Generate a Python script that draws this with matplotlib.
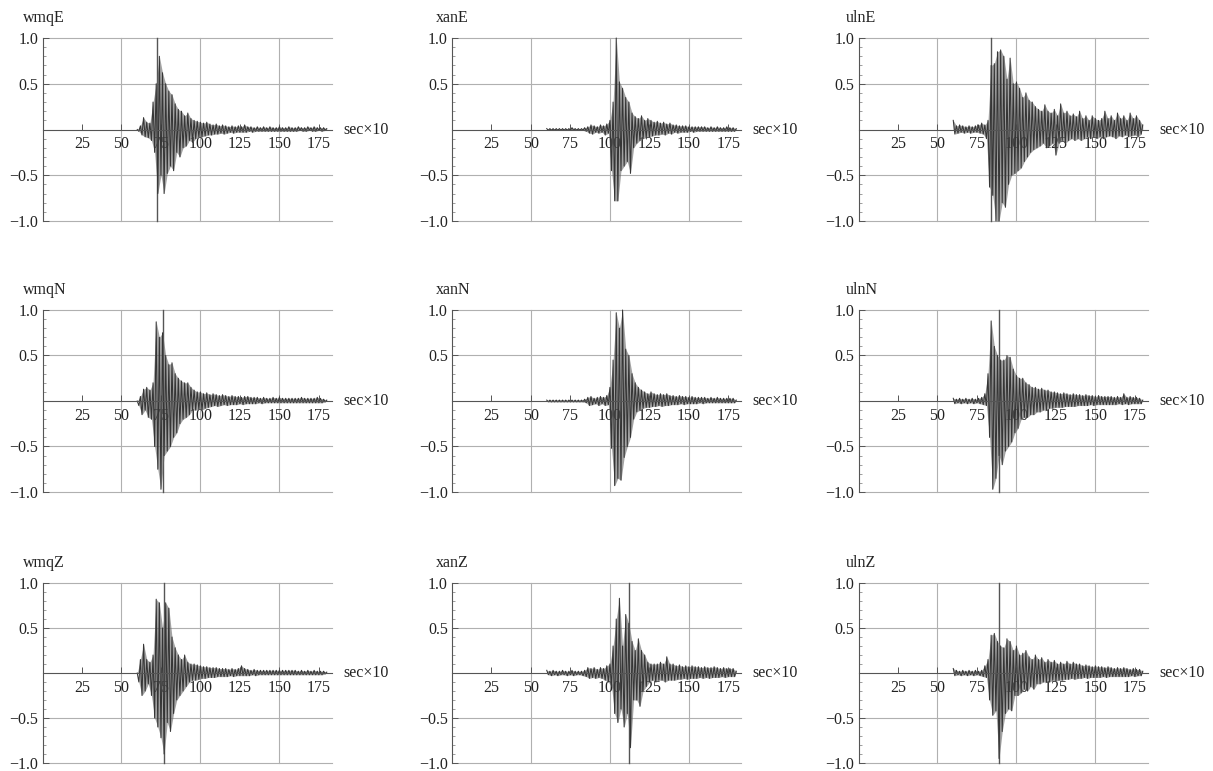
import numpy as np
import matplotlib
matplotlib.use('Agg')
import matplotlib.pyplot as plt
from matplotlib.ticker import MultipleLocator, FixedLocator, FuncFormatter

# normalised seismograms
# *_hi: positive peaks at t = 60, 62, ..., 180 ; *_lo: negative peaks at t = 61, 63, ..., 179
wmqE_hi = [0.00, 0.04, 0.13, 0.08, 0.07, 0.30, 0.50, 0.80, 0.62, 0.50,
           0.42, 0.38, 0.28, 0.22, 0.20, 0.15, 0.18, 0.12, 0.10, 0.09,
           0.08, 0.07, 0.08, 0.06, 0.05, 0.06, 0.04, 0.05, 0.04, 0.03,
           0.04, 0.03, 0.04, 0.03, 0.05, 0.03, 0.03, 0.02, 0.03, 0.02,
           0.03, 0.02, 0.03, 0.02, 0.02, 0.03, 0.02, 0.02, 0.03, 0.02,
           0.02, 0.03, 0.02, 0.02, 0.03, 0.02, 0.03, 0.02, 0.02, 0.02,
           0.01]
wmqE_lo = [-0.02, -0.06, -0.08, -0.09, -0.12, -0.25, -0.70, -0.50, -0.70, -0.48,
           -0.40, -0.45, -0.25, -0.30, -0.20, -0.18, -0.12, -0.14, -0.10, -0.08,
           -0.08, -0.07, -0.06, -0.06, -0.05, -0.05, -0.04, -0.05, -0.04, -0.03,
           -0.04, -0.03, -0.03, -0.03, -0.03, -0.02, -0.03, -0.02, -0.02, -0.02,
           -0.02, -0.02, -0.02, -0.02, -0.02, -0.02, -0.02, -0.02, -0.02, -0.02,
           -0.02, -0.01, -0.02, -0.02, -0.01, -0.02, -0.02, -0.01, -0.02, -0.01]

xanE_hi = [0.01, 0.01, 0.01, 0.01, 0.01, 0.01, 0.01, 0.01, 0.02, 0.01,
           0.01, 0.01, 0.02, 0.03, 0.05, 0.04, 0.03, 0.05, 0.04, 0.06,
           0.10, 0.30, 1.00, 0.52, 0.45, 0.35, 0.30, 0.18, 0.14, 0.12,
           0.15, 0.10, 0.12, 0.10, 0.08, 0.09, 0.07, 0.08, 0.06, 0.07,
           0.05, 0.05, 0.04, 0.04, 0.04, 0.03, 0.03, 0.03, 0.03, 0.03,
           0.03, 0.02, 0.03, 0.02, 0.03, 0.02, 0.02, 0.03, 0.02, 0.02,
           0.01]
xanE_lo = [-0.01, -0.01, -0.01, -0.01, -0.01, -0.01, -0.01, -0.01, -0.01, -0.01,
           -0.01, -0.01, -0.02, -0.04, -0.05, -0.03, -0.04, -0.03, -0.06, -0.04,
           -0.45, -0.78, -0.78, -0.45, -0.40, -0.35, -0.48, -0.20, -0.15, -0.12,
           -0.10, -0.09, -0.08, -0.07, -0.06, -0.06, -0.05, -0.06, -0.04, -0.05,
           -0.03, -0.04, -0.03, -0.03, -0.03, -0.02, -0.03, -0.02, -0.02, -0.02,
           -0.02, -0.02, -0.02, -0.02, -0.02, -0.02, -0.02, -0.02, -0.02, -0.02]

ulnE_hi = [0.10, 0.04, 0.05, 0.04, 0.03, 0.04, 0.03, 0.04, 0.05, 0.07,
           0.05, 0.10, 0.70, 0.72, 0.85, 0.87, 0.80, 0.55, 0.78, 0.50,
           0.52, 0.45, 0.35, 0.40, 0.32, 0.30, 0.25, 0.22, 0.20, 0.27,
           0.20, 0.18, 0.22, 0.15, 0.28, 0.18, 0.20, 0.15, 0.17, 0.14,
           0.20, 0.12, 0.15, 0.10, 0.15, 0.12, 0.10, 0.12, 0.20, 0.12,
           0.15, 0.10, 0.18, 0.12, 0.15, 0.10, 0.18, 0.12, 0.15, 0.10,
           0.05]
ulnE_lo = [-0.05, -0.04, -0.03, -0.04, -0.03, -0.04, -0.03, -0.03, -0.04, -0.05,
           -0.10, -0.63, -0.72, -1.00, -1.00, -0.80, -0.85, -0.60, -0.50, -0.48,
           -0.45, -0.42, -0.35, -0.30, -0.25, -0.22, -0.20, -0.18, -0.15, -0.20,
           -0.18, -0.15, -0.28, -0.15, -0.12, -0.15, -0.12, -0.10, -0.12, -0.10,
           -0.12, -0.10, -0.08, -0.10, -0.08, -0.10, -0.08, -0.10, -0.08, -0.07,
           -0.08, -0.10, -0.07, -0.08, -0.06, -0.08, -0.07, -0.06, -0.08, -0.05]

wmqN_hi = [0.00, 0.05, 0.13, 0.15, 0.12, 0.20, 0.87, 0.70, 0.75, 0.50,
           0.40, 0.42, 0.30, 0.25, 0.22, 0.20, 0.20, 0.15, 0.12, 0.10,
           0.10, 0.08, 0.09, 0.07, 0.08, 0.07, 0.06, 0.07, 0.06, 0.05,
           0.06, 0.05, 0.05, 0.04, 0.05, 0.05, 0.04, 0.04, 0.04, 0.03,
           0.04, 0.03, 0.03, 0.04, 0.03, 0.04, 0.03, 0.03, 0.03, 0.03,
           0.03, 0.03, 0.04, 0.03, 0.03, 0.03, 0.03, 0.04, 0.03, 0.02,
           0.01]
wmqN_lo = [-0.05, -0.15, -0.10, -0.18, -0.20, -0.50, -0.75, -0.97, -0.60, -0.55,
           -0.50, -0.40, -0.35, -0.25, -0.20, -0.18, -0.15, -0.10, -0.10, -0.09,
           -0.10, -0.08, -0.07, -0.06, -0.05, -0.06, -0.05, -0.04, -0.05, -0.04,
           -0.04, -0.04, -0.03, -0.04, -0.03, -0.03, -0.03, -0.03, -0.02, -0.03,
           -0.02, -0.02, -0.02, -0.02, -0.02, -0.02, -0.02, -0.02, -0.02, -0.02,
           -0.02, -0.02, -0.02, -0.02, -0.02, -0.02, -0.02, -0.02, -0.02, -0.01]

xanN_hi = [0.01, 0.01, 0.01, 0.01, 0.01, 0.01, 0.01, 0.01, 0.01, 0.01,
           0.01, 0.01, 0.02, 0.04, 0.05, 0.03, 0.04, 0.05, 0.04, 0.06,
           0.15, 0.45, 0.97, 0.80, 1.00, 0.57, 0.50, 0.30, 0.20, 0.15,
           0.12, 0.10, 0.08, 0.10, 0.08, 0.07, 0.08, 0.07, 0.08, 0.06,
           0.06, 0.05, 0.06, 0.05, 0.05, 0.04, 0.05, 0.04, 0.04, 0.04,
           0.04, 0.03, 0.04, 0.03, 0.04, 0.03, 0.03, 0.03, 0.03, 0.03,
           0.01]
xanN_lo = [-0.01, -0.01, -0.01, -0.01, -0.01, -0.01, -0.01, -0.01, -0.01, -0.01,
           -0.01, -0.01, -0.02, -0.05, -0.04, -0.03, -0.05, -0.03, -0.05, -0.04,
           -0.52, -0.93, -0.85, -0.87, -0.62, -0.50, -0.40, -0.20, -0.12, -0.10,
           -0.08, -0.07, -0.07, -0.06, -0.06, -0.05, -0.06, -0.05, -0.05, -0.04,
           -0.04, -0.04, -0.03, -0.04, -0.03, -0.03, -0.03, -0.03, -0.02, -0.03,
           -0.02, -0.02, -0.02, -0.02, -0.02, -0.02, -0.02, -0.02, -0.02, -0.02]

ulnN_hi = [0.03, 0.02, 0.03, 0.02, 0.03, 0.02, 0.03, 0.02, 0.03, 0.04,
           0.08, 0.30, 0.88, 0.60, 0.50, 0.45, 0.45, 0.50, 0.48, 0.35,
           0.28, 0.25, 0.25, 0.20, 0.18, 0.15, 0.15, 0.13, 0.14, 0.12,
           0.12, 0.10, 0.10, 0.09, 0.08, 0.09, 0.08, 0.07, 0.08, 0.07,
           0.07, 0.06, 0.07, 0.06, 0.06, 0.05, 0.06, 0.05, 0.05, 0.05,
           0.05, 0.04, 0.05, 0.04, 0.08, 0.04, 0.05, 0.04, 0.04, 0.03,
           0.01]
ulnN_lo = [-0.03, -0.02, -0.03, -0.02, -0.03, -0.02, -0.03, -0.02, -0.03, -0.04,
           -0.05, -0.40, -0.97, -0.85, -0.60, -0.70, -0.55, -0.50, -0.45, -0.35,
           -0.30, -0.20, -0.18, -0.18, -0.15, -0.15, -0.12, -0.12, -0.10, -0.10,
           -0.08, -0.08, -0.07, -0.07, -0.07, -0.06, -0.06, -0.06, -0.06, -0.05,
           -0.05, -0.05, -0.05, -0.04, -0.05, -0.04, -0.04, -0.04, -0.04, -0.04,
           -0.04, -0.04, -0.03, -0.04, -0.03, -0.04, -0.03, -0.03, -0.03, -0.03]

wmqZ_hi = [0.00, 0.15, 0.32, 0.15, 0.12, 0.20, 0.82, 0.78, 0.50, 0.78,
           0.72, 0.40, 0.28, 0.20, 0.15, 0.20, 0.12, 0.10, 0.10, 0.09,
           0.08, 0.07, 0.07, 0.06, 0.06, 0.06, 0.05, 0.05, 0.05, 0.04,
           0.05, 0.04, 0.05, 0.08, 0.05, 0.04, 0.03, 0.04, 0.03, 0.03,
           0.03, 0.03, 0.03, 0.03, 0.03, 0.03, 0.03, 0.03, 0.03, 0.03,
           0.03, 0.02, 0.03, 0.02, 0.03, 0.02, 0.03, 0.02, 0.02, 0.02,
           0.01]
wmqZ_lo = [-0.10, -0.25, -0.20, -0.12, -0.25, -0.50, -0.60, -0.72, -0.90, -0.55,
           -0.65, -0.45, -0.30, -0.25, -0.20, -0.15, -0.10, -0.08, -0.08, -0.07,
           -0.06, -0.06, -0.05, -0.05, -0.05, -0.04, -0.04, -0.04, -0.04, -0.03,
           -0.04, -0.03, -0.03, -0.03, -0.03, -0.03, -0.02, -0.03, -0.02, -0.02,
           -0.02, -0.02, -0.02, -0.02, -0.02, -0.02, -0.02, -0.02, -0.02, -0.02,
           -0.02, -0.02, -0.02, -0.02, -0.02, -0.02, -0.02, -0.02, -0.02, -0.01]

xanZ_hi = [0.03, 0.02, 0.03, 0.02, 0.02, 0.03, 0.02, 0.02, 0.03, 0.02,
           0.02, 0.02, 0.03, 0.06, 0.05, 0.06, 0.04, 0.06, 0.05, 0.08,
           0.10, 0.30, 0.60, 0.83, 0.30, 0.65, 0.55, 0.35, 0.25, 0.38,
           0.25, 0.20, 0.12, 0.10, 0.10, 0.10, 0.12, 0.10, 0.18, 0.10,
           0.10, 0.08, 0.09, 0.07, 0.08, 0.07, 0.08, 0.07, 0.07, 0.06,
           0.07, 0.06, 0.06, 0.07, 0.06, 0.05, 0.06, 0.05, 0.05, 0.05,
           0.02]
xanZ_lo = [-0.02, -0.03, -0.02, -0.03, -0.02, -0.02, -0.03, -0.02, -0.03, -0.02,
           -0.02, -0.03, -0.04, -0.06, -0.05, -0.06, -0.05, -0.06, -0.08, -0.10,
           -0.15, -0.45, -0.55, -0.40, -0.60, -0.45, -0.83, -0.30, -0.30, -0.37,
           -0.20, -0.15, -0.10, -0.08, -0.10, -0.08, -0.08, -0.10, -0.08, -0.08,
           -0.08, -0.07, -0.07, -0.06, -0.07, -0.06, -0.06, -0.06, -0.05, -0.06,
           -0.05, -0.06, -0.05, -0.05, -0.05, -0.04, -0.05, -0.04, -0.04, -0.04]

ulnZ_hi = [0.05, 0.03, 0.02, 0.03, 0.02, 0.03, 0.02, 0.03, 0.02, 0.03,
           0.08, 0.15, 0.42, 0.44, 0.35, 0.30, 0.28, 0.38, 0.35, 0.25,
           0.30, 0.20, 0.22, 0.25, 0.18, 0.15, 0.20, 0.15, 0.17, 0.12,
           0.15, 0.12, 0.14, 0.10, 0.12, 0.10, 0.13, 0.10, 0.12, 0.10,
           0.10, 0.08, 0.09, 0.08, 0.07, 0.08, 0.07, 0.07, 0.06, 0.07,
           0.06, 0.05, 0.06, 0.05, 0.06, 0.05, 0.04, 0.05, 0.04, 0.04,
           0.02]
ulnZ_lo = [-0.03, -0.02, -0.03, -0.02, -0.03, -0.02, -0.03, -0.02, -0.03, -0.04,
           -0.05, -0.30, -0.47, -0.42, -0.95, -0.65, -0.45, -0.40, -0.42, -0.25,
           -0.25, -0.22, -0.18, -0.20, -0.15, -0.18, -0.12, -0.12, -0.10, -0.10,
           -0.10, -0.08, -0.09, -0.08, -0.08, -0.07, -0.07, -0.06, -0.07, -0.06,
           -0.06, -0.05, -0.06, -0.05, -0.05, -0.05, -0.05, -0.04, -0.05, -0.04,
           -0.04, -0.04, -0.04, -0.04, -0.04, -0.04, -0.03, -0.04, -0.03, -0.03]

names = ['wmqE', 'xanE', 'ulnE', 'wmqN', 'xanN', 'ulnN', 'wmqZ', 'xanZ', 'ulnZ']
traces = [(wmqE_hi, wmqE_lo), (xanE_hi, xanE_lo), (ulnE_hi, ulnE_lo),
          (wmqN_hi, wmqN_lo), (xanN_hi, xanN_lo), (ulnN_hi, ulnN_lo),
          (wmqZ_hi, wmqZ_lo), (xanZ_hi, xanZ_lo), (ulnZ_hi, ulnZ_lo)]
# time of the dark full-height line in each panel (None = not drawn)
peak_t = [72.7, None, 83.9, 76.5, None, 89.1, 77.1, 112.1, 88.9]
t_start = 60
x_ticks = [25, 50, 75, 100, 125, 150, 175]
y_ticks = [-1.0, -0.5, 0.5, 1.0]
grid_x = [50, 100, 150]
grid_y = [-1.0, -0.5, 0.5, 1.0]

plt.rcParams['font.family'] = ['Liberation Serif', 'DejaVu Serif']
plt.rcParams['font.size'] = 11.5

fig = plt.figure(figsize=(12.13, 7.71), dpi=100)

# panel boxes in pixels (left, top, width, height)
lefts = [42.5, 452, 858.5]
tops = [38, 310, 583]
heights = [183, 182, 180]
title_dx = [-0.068, -0.056, -0.043]
W, H = 1213, 771
pw = 289

def fmt_y(v, pos):
    return ('%.1f' % v).replace('-', '\u2212')

axes = []
for r in range(3):
    for c in range(3):
        ax = fig.add_axes([lefts[c] / W, 1 - (tops[r] + heights[r]) / H, pw / W, heights[r] / H])
        axes.append(ax)

for i, ax in enumerate(axes):
    hi, lo = traces[i]
    y = np.empty(len(hi) + len(lo))
    y[0::2] = hi
    y[1::2] = lo
    x = np.arange(t_start, t_start + len(y))
    t_hi = x[0::2]
    t_lo = x[1::2]

    ax.set_xlim(0, 183)
    ax.set_ylim(-1, 1)

    for gx in grid_x:
        ax.axvline(gx, color='#b0b0b0', lw=0.8, zorder=1, clip_on=False)
    for gy in grid_y:
        ax.axhline(gy, color='#b0b0b0', lw=0.8, zorder=1, clip_on=False)
    if peak_t[i] is not None:
        ax.axvline(peak_t[i], color='#555555', lw=1.0, zorder=2, clip_on=False)

    # envelope shading plus the wiggle itself
    ax.fill_between(t_hi, 0, hi, color='#666666', alpha=0.6, lw=0, zorder=2)
    ax.fill_between(t_lo, 0, lo, color='#666666', alpha=0.6, lw=0, zorder=2)
    ax.plot(x, y, color='#353535', lw=0.75, zorder=3, clip_on=False)

    for s in ['top', 'right']:
        ax.spines[s].set_visible(False)
    ax.spines['left'].set_position(('data', 0))
    ax.spines['bottom'].set_position(('data', 0))
    ax.spines['left'].set_color('#555555')
    ax.spines['bottom'].set_color('#555555')
    ax.spines['bottom'].set_zorder(4)

    ax.xaxis.set_major_locator(FixedLocator(x_ticks))
    ax.yaxis.set_major_locator(FixedLocator(y_ticks))
    ax.yaxis.set_minor_locator(MultipleLocator(0.1))
    ax.yaxis.set_major_formatter(FuncFormatter(fmt_y))
    ax.tick_params(axis='x', which='major', direction='in', length=4, width=0.7,
                   color='#555555', labelcolor='#222222', pad=5)
    ax.tick_params(axis='y', which='major', direction='in', length=4, width=0.7,
                   color='#555555', labelcolor='#222222', pad=3)
    ax.tick_params(axis='y', which='minor', direction='in', length=2, width=0.5,
                   color='#777777')

    ax.text(title_dx[i % 3], 1.11, names[i], transform=ax.transAxes,
            ha='left', va='center', color='#222222')
    ax.text(1.04, 0.5, 'sec×10', transform=ax.transAxes, ha='left', va='center',
            color='#222222')

fig.savefig('out.png', dpi=100)
